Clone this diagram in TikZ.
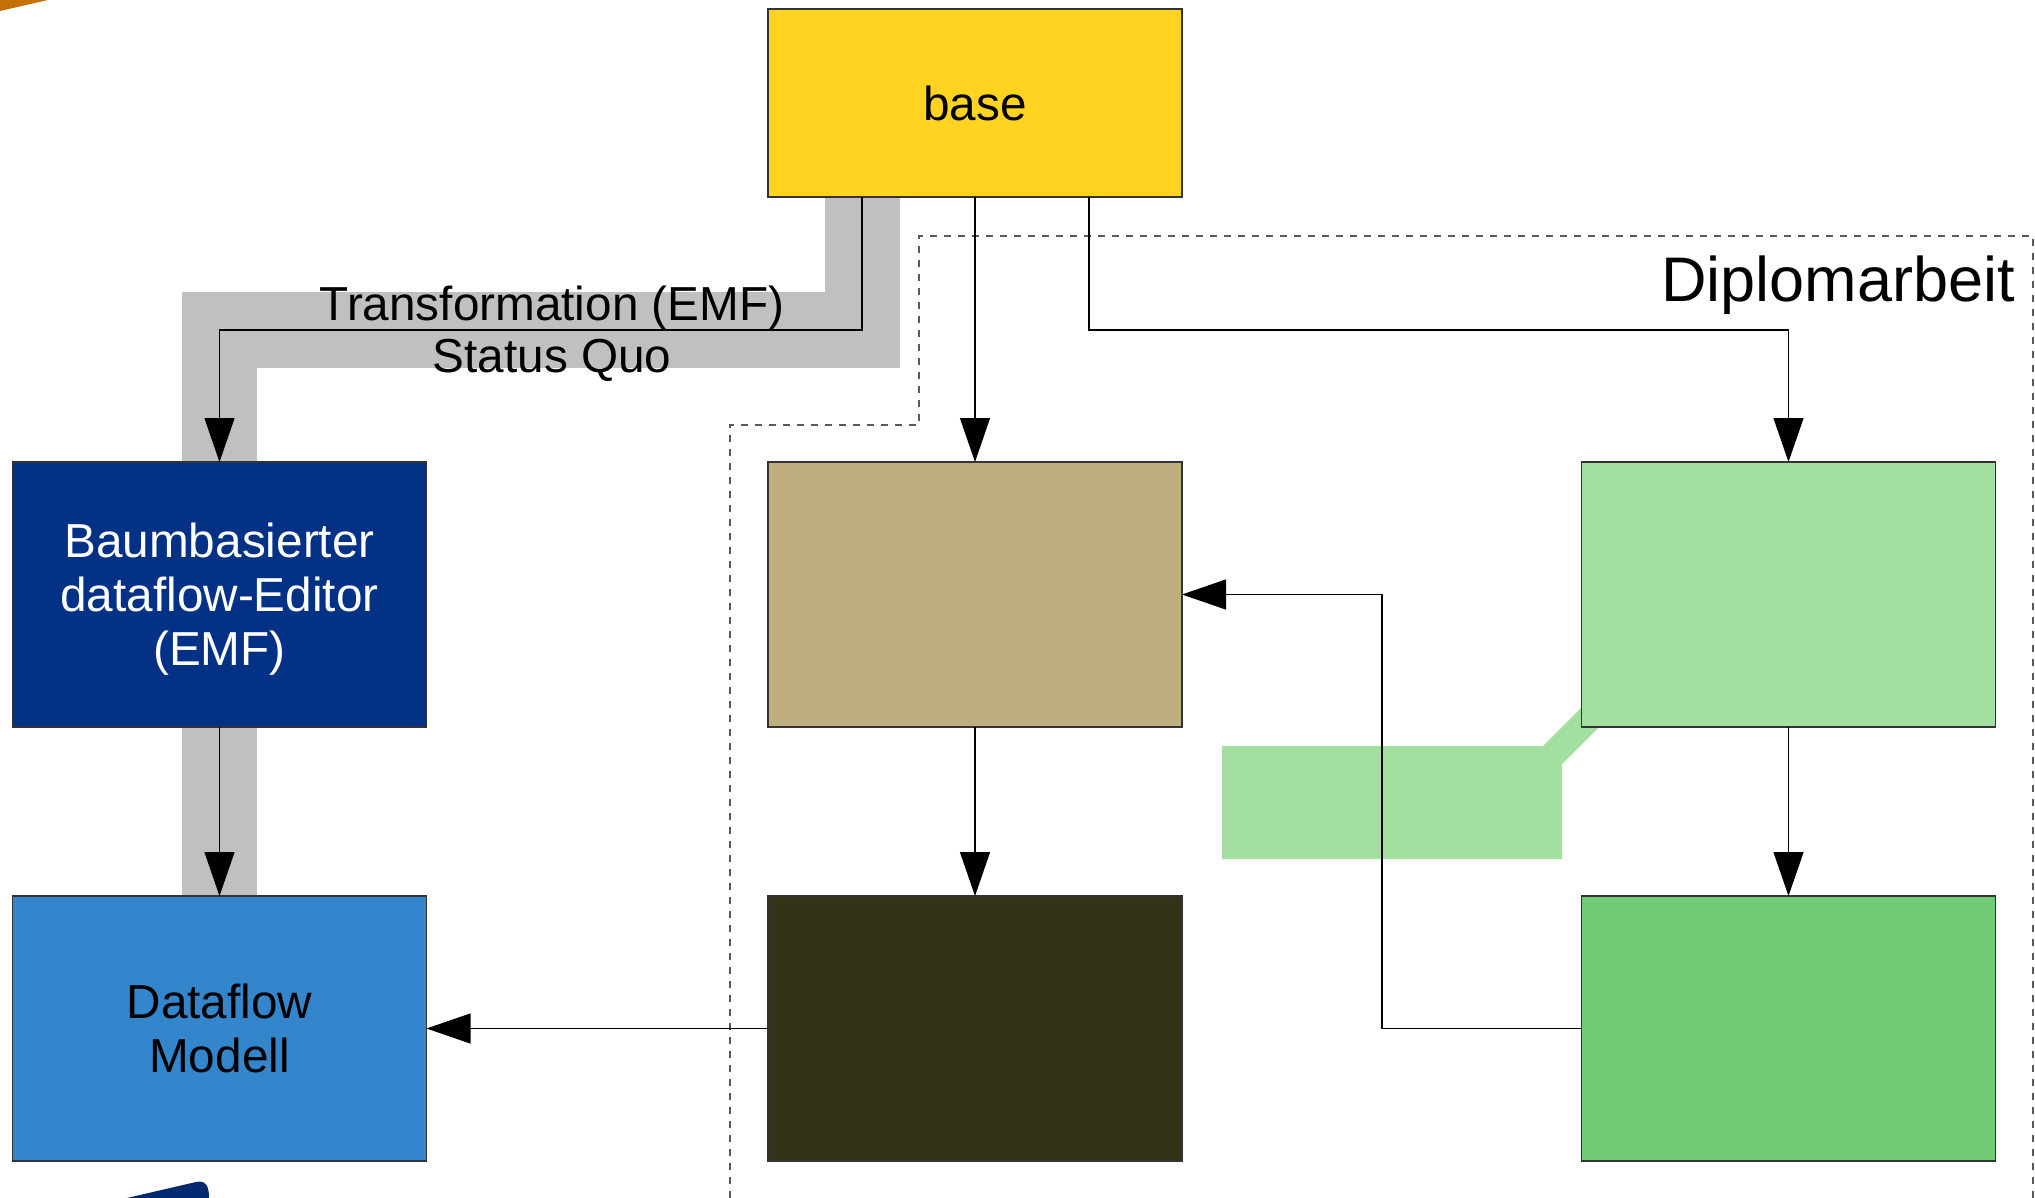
\documentclass[tikz,border=0pt]{standalone}
\usepackage{fontspec}
\setmainfont{Liberation Sans}
\usetikzlibrary{arrows.meta}
\definecolor{cBase}{HTML}{FFD320}
\definecolor{cBaum}{HTML}{023185}
\definecolor{cData}{HTML}{3385CC}
\definecolor{cTan}{HTML}{BFAF80}
\definecolor{cDark}{HTML}{323317}
\definecolor{cLG}{HTML}{A3E0A0}
\definecolor{cGreen}{HTML}{71CB75}
\definecolor{cGray}{HTML}{C0C0C0}
\definecolor{cOrange}{HTML}{C46F08}
\definecolor{cNavy}{HTML}{032A70}
\begin{document}
\begin{tikzpicture}[x=1pt,y=-1pt,
  box/.style={draw=black!80, line width=1.3pt, minimum width=414pt, minimum height=265pt,
    inner sep=0pt, outer sep=0pt, align=center, font=\fontsize{47.7}{54}\selectfont},
  conn/.style={draw=black, line width=1.2pt, -{Triangle[length=44pt,width=30pt]}},
  band/.style={draw=cGray, line width=75pt},
  frame/.style={draw=black!65, line width=1.3pt, dash pattern=on 7pt off 7pt},
  lbl/.style={inner sep=0pt, font=\fontsize{47.7}{54}\selectfont}
]
\useasboundingbox (0,0) rectangle (2035,1198);
\fill[white] (0,0) rectangle (2035,1198);

% decorative fragments at the edges
\fill[cOrange] (0,0) -- (48,0) -- (0,11) -- cycle;
\fill[cNavy] (127,1198) -- (196,1182) .. controls (206,1180) and (209,1186) .. (209,1198) -- cycle;

% dashed frame "Diplomarbeit"
\draw[frame] (730,1198) -- (730,425) -- (919,425) -- (919,236) -- (2033,236) -- (2033,1198);

% coordinates for connector bends
\coordinate (k1) at (862,330);
\coordinate (k2) at (1089,330);
\coordinate (k3) at (1382,594.5);

% gray bands (status quo)
\draw[band] (862,197) -- (k1) -- (219.5,330) -- (219.5,462);
\draw[band] (219.5,727) -- (219.5,897);

% green band
\fill[cLG] (1222,746) -- (1543,746) -- (1599,690) -- (1618,708) -- (1562,764) -- (1562,859) -- (1222,859) -- cycle;

% boxes
\node[box, fill=cBase, minimum height=188pt] (base) at (975,103) {base};
\node[box, fill=cBaum, text=white, text depth=0pt] (baum) at (219.5,594.5) {Baumbasierter\\dataflow-Editor\\(EMF)};
\node[box, fill=cData] (data) at (219.5,1028.5) {Dataflow\\Modell};
\node[box, fill=cTan] (tan) at (975,594.5) {};
\node[box, fill=cDark] (dark) at (975,1028.5) {};
\node[box, fill=cLG] (lg) at (1788.5,594.5) {};
\node[box, fill=cGreen] (green) at (1788.5,1028.5) {};

% connectors
\draw[conn] (base.south -| k1) -- (k1) -| (baum.north);
\draw[conn] (baum.south) -- (data.north);
\draw[conn] (base.south) -- (tan.north);
\draw[conn] (base.south -| k2) -- (k2) -| (lg.north);
\draw[conn] (tan.south) -- (dark.north);
\draw[conn] (lg.south) -- (green.north);
\draw[conn] (green.west) -| (k3) -- (tan.east);
\draw[conn] (dark.west) -- (data.east);

% labels
\node[lbl, anchor=base] (t1) at (552,320) {Transformation (EMF)};
\node[lbl, anchor=base] (t2) at (552,372) {Status Quo};
\node[inner sep=0pt, anchor=base east, font=\fontsize{63}{70}\selectfont] (dip) at (2015,302) {Diplomarbeit};
\end{tikzpicture}
\end{document}
